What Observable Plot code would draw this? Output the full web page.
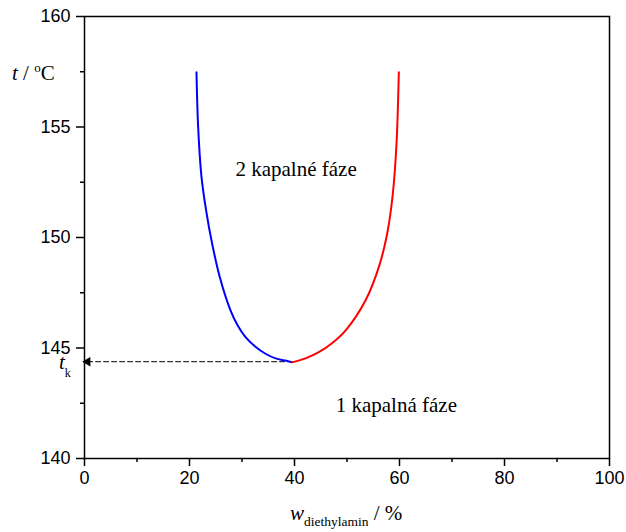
<!DOCTYPE html>
<html>
<head>
<meta charset="utf-8">
<script src="https://cdn.jsdelivr.net/npm/d3@7"></script>
<script src="https://cdn.jsdelivr.net/npm/@observablehq/plot@0.6"></script>
<style>
  body { margin: 0; background: white; }
  #chart svg { display: block; }
</style>
</head>
<body>
<div id="chart"></div>
<script>
// Left branch (blue) of the binodal curve
const blueX = [21.33, 21.65, 22.29, 23.17, 24.32, 25.78, 27.81, 29.1, 30.67, 32.5, 34.48, 36.4, 38.29, 39.43];
const blueY = [157.48, 154.99, 152.73, 151.22, 149.71, 148.2, 146.7, 146.05, 145.49, 145.07, 144.74, 144.53, 144.43, 144.36];
// Right branch (red)
const redX = [39.68, 42.1, 44.63, 47.2, 49.71, 53.52, 56.06, 57.65, 58.73, 59.43, 59.87];
const redY = [144.36, 144.53, 144.81, 145.23, 145.79, 147.15, 148.66, 150.17, 151.98, 154.24, 157.48];
// Critical temperature dashed marker
const dashX = [0.6, 39.4];
const dashY = [144.38, 144.38];
// Axis ticks
const xMajor = [0, 20, 40, 60, 80, 100];
const xMinor = [10, 30, 50, 70, 90];
const yMajor = [140, 145, 150, 155, 160];
const yMinor = [142.5, 147.5, 152.5, 157.5];
// Region labels
const labelText = ["2 kapalné fáze", "1 kapalná fáze"];
const labelX = [40.3, 59.4];
const labelY = [153.1, 142.4];

const blue = blueX.map((x, i) => ({x, y: blueY[i]}));
const red = redX.map((x, i) => ({x, y: redY[i]}));
const dash = dashX.map((x, i) => ({x, y: dashY[i]}));
const labels = labelText.map((t, i) => ({t, x: labelX[i], y: labelY[i]}));

const chart = Plot.plot({
  width: 626,
  height: 532,
  marginLeft: 84,
  marginRight: 17,
  marginTop: 16,
  marginBottom: 74,
  x: {domain: [0, 100]},
  y: {domain: [140, 160]},
  style: {fontFamily: "Liberation Sans, Arial, sans-serif", fontSize: "18px", color: "black", background: "white"},
  marks: [
    Plot.axisX({ticks: xMajor, tickSize: 8, tickPadding: 5, label: null, fontSize: 18, strokeWidth: 1.5}),
    Plot.axisX({ticks: xMinor, tickSize: 4, tickFormat: () => "", label: null, strokeWidth: 1.5}),
    Plot.axisY({ticks: yMajor, tickSize: 8, tickPadding: 6, label: null, fontSize: 18, strokeWidth: 1.5}),
    Plot.axisY({ticks: yMinor, tickSize: 4, tickFormat: () => "", label: null, strokeWidth: 1.5}),
    Plot.line(dash, {x: "x", y: "y", stroke: "black", strokeWidth: 1, strokeDasharray: "5,3"}),
    Plot.dot([dash[0]], {x: "x", y: "y", symbol: "triangle", r: 3.5, rotate: -90, fill: "black", stroke: "none"}),
    Plot.line(blue, {x: "x", y: "y", stroke: "#0000ff", strokeWidth: 2, curve: "catmull-rom"}),
    Plot.line(red, {x: "x", y: "y", stroke: "#ff0000", strokeWidth: 2, curve: "catmull-rom"}),
    Plot.text(labels, {x: "x", y: "y", text: "t", fontFamily: "Liberation Serif, Times New Roman, serif", fontSize: 21, fill: "black"}),
    Plot.frame({stroke: "black", strokeWidth: 1.5})
  ]
});

const svg = d3.select(chart);
const serif = "Liberation Serif, Times New Roman, serif";

// y-axis title: t / °C
const yl = svg.append("text").attr("x", 12).attr("y", 80).attr("text-anchor", "start")
  .attr("font-family", serif).attr("font-size", 21).attr("fill", "black");
yl.append("tspan").attr("font-style", "italic").text("t");
yl.append("tspan").text(" / ");
yl.append("tspan").attr("font-size", 13).attr("dy", -8).text("o");
yl.append("tspan").attr("dy", 8).text("C");

// t_k label
const tk = svg.append("text").attr("x", 59).attr("y", 369).attr("text-anchor", "start")
  .attr("font-family", serif).attr("font-size", 21).attr("fill", "black");
tk.append("tspan").attr("font-style", "italic").text("t");
tk.append("tspan").attr("font-size", 12).attr("dy", 8).text("k");

// x-axis title: w_diethylamin / %
const xl = svg.append("text").attr("x", 290).attr("y", 520).attr("text-anchor", "start")
  .attr("font-family", serif).attr("font-size", 21).attr("fill", "black");
xl.append("tspan").attr("font-style", "italic").text("w");
xl.append("tspan").attr("font-size", 13.5).attr("dy", 6).text("diethylamin");
xl.append("tspan").attr("dy", -6).text(" / %");

document.getElementById("chart").appendChild(chart);
</script>
</body>
</html>
